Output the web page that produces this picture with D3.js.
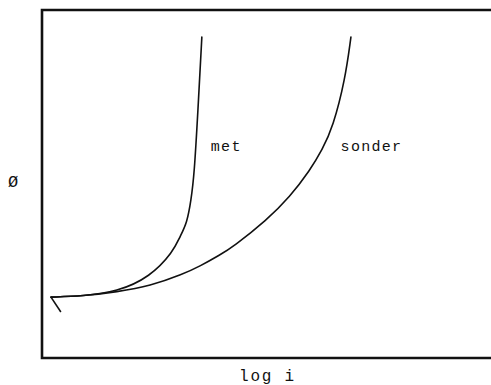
<!DOCTYPE html>
<html>
<head>
<meta charset="utf-8">
<script src="https://cdn.jsdelivr.net/npm/d3@7/dist/d3.min.js"></script>
<style>
  html, body { margin: 0; padding: 0; background: #fff; }
  svg { display: block; }
  text { font-family: "Liberation Mono", "DejaVu Sans Mono", monospace; fill: #111; }
</style>
</head>
<body>
<svg id="chart" width="491" height="385"></svg>
<script>
// log i (x) and Ø (y) in relative units, 0–100 across the plotting frame
const metX    = [2.0, 9.1, 16.7, 24.1, 29.2, 30.7, 32.3, 33.2, 33.9, 34.7, 35.6];
const metY    = [17.5, 17.8, 19.0, 23.3, 30.5, 34.8, 38.8, 45.4, 52.6, 70.4, 92.2];
const sonderX = [2.0, 9.1, 16.7, 24.1, 31.4, 35.2, 39.6, 42.5, 50.1, 55.2, 59.7, 62.4, 64.8, 67.5, 68.8];
const sonderY = [17.5, 17.8, 19.0, 20.7, 24.1, 26.4, 29.6, 31.9, 39.7, 46.3, 54.0, 59.8, 66.4, 79.9, 92.2];
const startTickX = [2.0, 4.2];
const startTickY = [17.5, 13.2];
const curveLabels = ["met", "sonder"];
const xAxisLabel = "log i";
const yAxisLabel = "Ø";

const svg = d3.select("#chart");
const frameLeft = 42, frameRight = 491, frameTop = 10, frameBottom = 358;

const x = d3.scaleLinear().domain([0, 100]).range([frameLeft, frameRight]);
const y = d3.scaleLinear().domain([0, 100]).range([frameBottom, frameTop]);

// frame: left, top and bottom edges (open on the right)
svg.append("path")
  .attr("d", `M${x(100)},${y(100)} H${x(0)} V${y(0)} H${x(100)}`)
  .attr("fill", "none")
  .attr("stroke", "#111")
  .attr("stroke-width", 2.6)
  .attr("stroke-linejoin", "miter");

const line = d3.line()
  .x(d => x(d[0]))
  .y(d => y(d[1]))
  .curve(d3.curveBasis);

const curves = [
  d3.zip(metX, metY),
  d3.zip(sonderX, sonderY)
];

svg.append("g")
  .selectAll("path")
  .data(curves)
  .join("path")
  .attr("d", line)
  .attr("fill", "none")
  .attr("stroke", "#111")
  .attr("stroke-width", 1.6)
  .attr("stroke-linecap", "round");

// short stroke at the common starting point
svg.append("path")
  .attr("d", d3.line().x(d => x(d[0])).y(d => y(d[1]))(d3.zip(startTickX, startTickY)))
  .attr("fill", "none")
  .attr("stroke", "#111")
  .attr("stroke-width", 1.6);

// curve labels
const labelPos = [[37.6, 59.5], [66.5, 59.5]];
svg.append("g")
  .selectAll("text")
  .data(curveLabels)
  .join("text")
  .attr("x", (d, i) => x(labelPos[i][0]))
  .attr("y", (d, i) => y(labelPos[i][1]))
  .attr("font-size", 15)
  .attr("letter-spacing", 1.3)
  .text(d => d);

// axis titles
svg.append("text")
  .attr("x", (x(0) + x(100)) / 2 + 1)
  .attr("y", 381)
  .attr("text-anchor", "middle")
  .attr("font-size", 16)
  .attr("letter-spacing", 1.8)
  .text(xAxisLabel);

svg.append("text")
  .attr("x", 13)
  .attr("y", 187)
  .attr("text-anchor", "middle")
  .attr("font-size", 17)
  .text(yAxisLabel);
</script>
</body>
</html>
